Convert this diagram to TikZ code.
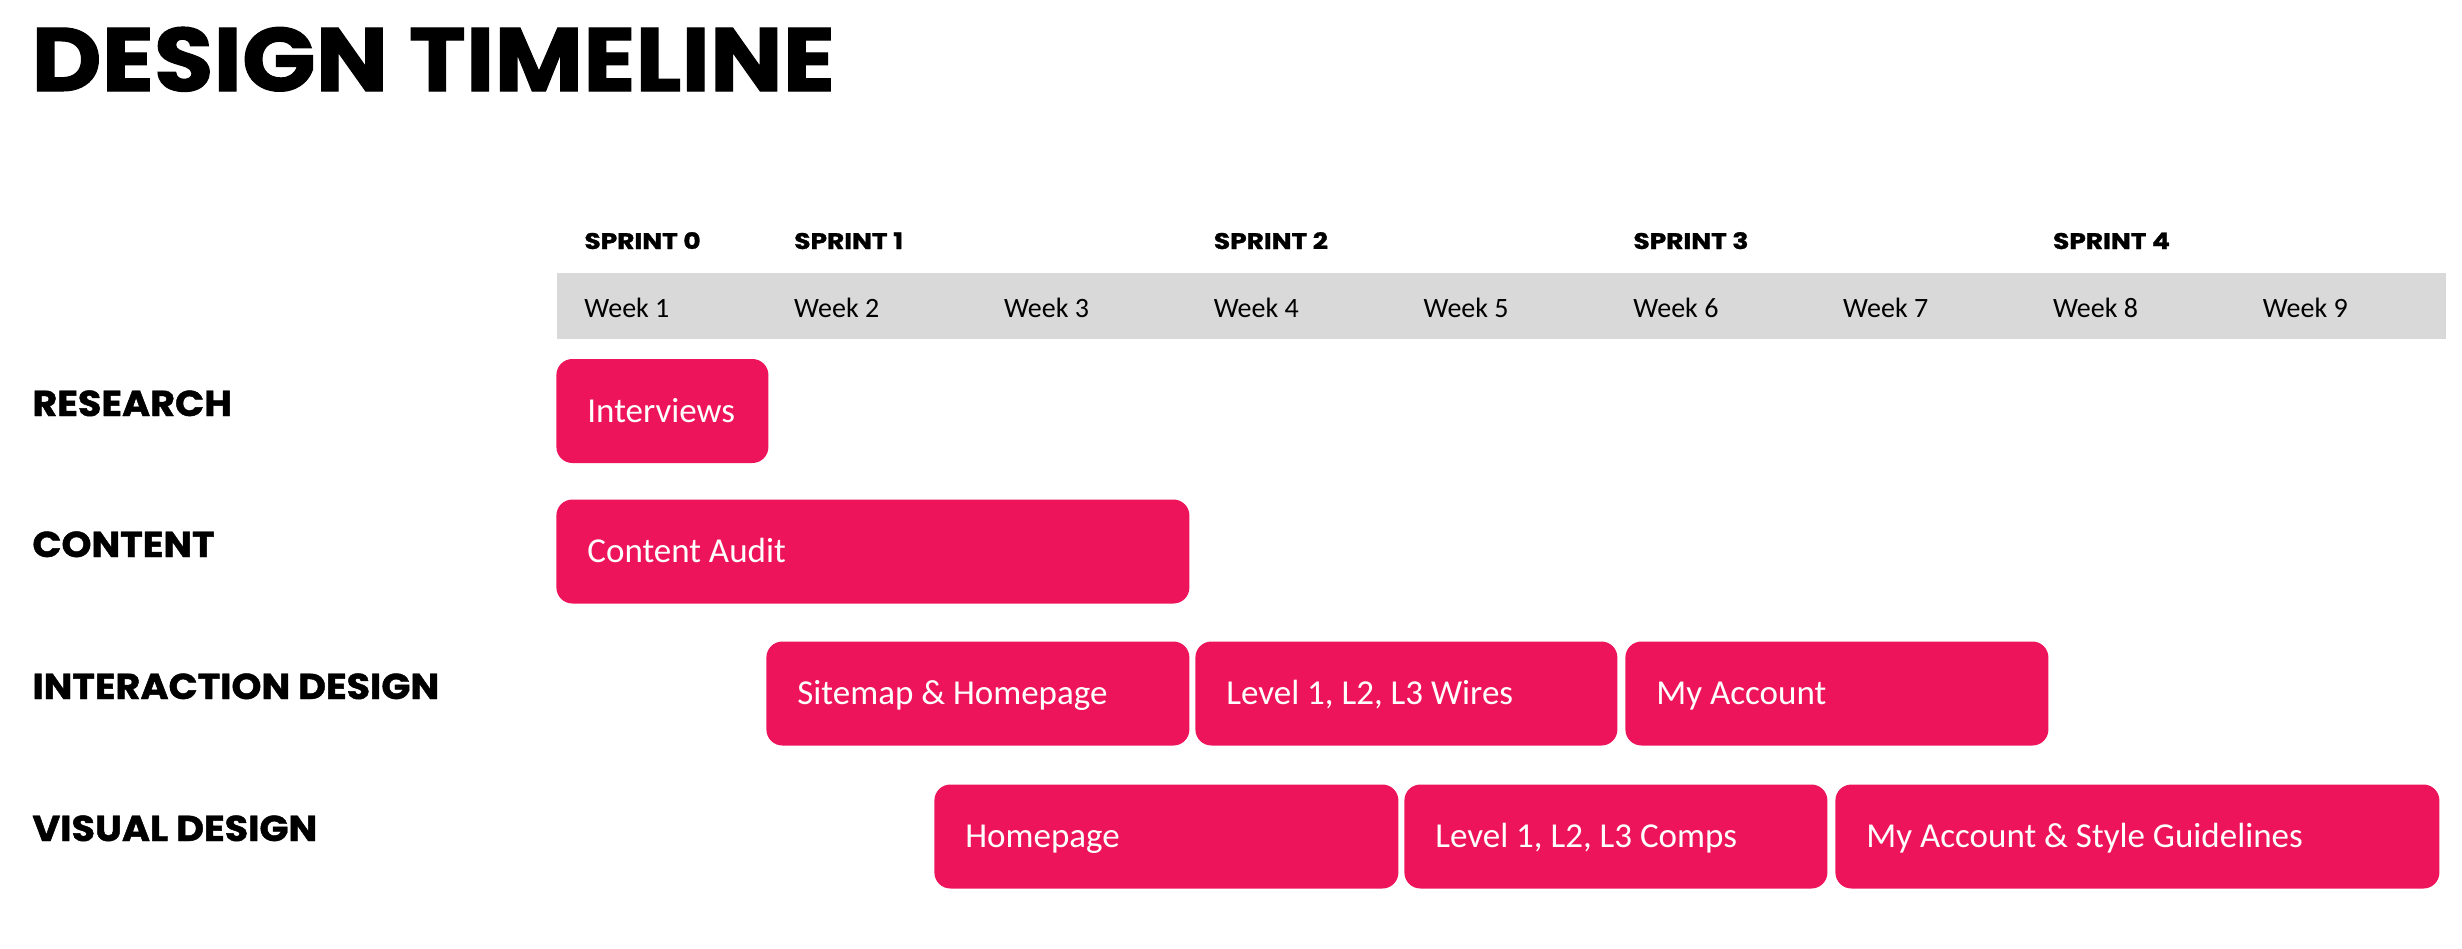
\documentclass[tikz,border=0pt]{standalone}
\usepackage{fontspec}
\usepackage{xcolor}
\usepackage{tikz}
\setmainfont{Carlito}
\newfontfamily\headfont{Poppins}[BoldFeatures={FakeBold=1.2}]
\definecolor{taskpink}{RGB}{238,20,91}
\definecolor{bandgray}{RGB}{217,217,217}

\tikzset{
  task/.style={fill=taskpink, rounded corners=8pt, text=white, anchor=west, align=flush left,
    font=\fontsize{17.5}{20}\selectfont, inner xsep=15.5pt, inner ysep=0pt,
    minimum height=52pt, text height=11.1pt, text depth=0pt, text width=#1},
  rowlabel/.style={anchor=base west, inner sep=0pt, xscale=1.06, font=\headfont\bfseries\fontsize{18}{20}\selectfont},
  sprintlabel/.style={anchor=base west, inner sep=0pt, xscale=1.17, font=\headfont\bfseries\fontsize{11.3}{13}\selectfont},
  weeklabel/.style={anchor=base west, inner sep=0pt, font=\fontsize{14}{16}\selectfont}
}

\begin{document}
\begin{tikzpicture}[x=0.5pt,y=-0.5pt]
	\useasboundingbox (0,0) rectangle (2462,948);
	
	\node [anchor=base west, inner sep=0pt, xscale=1.074, font=\headfont\bfseries\fontsize{45}{50}\selectfont] (title) at (31,91) {DESIGN TIMELINE};
	
	% weeks and sprints
	\fill [bandgray] (557,273) rectangle (2446,339);
	\foreach \w in {1,...,9}
		\node [weeklabel] (week\w) at ({584+209.8*(\w-1)},317) {Week \w};
	\foreach \s/\c in {0/1,1/2,2/4,3/6,4/8}
		\node [sprintlabel] (sprint\s) at ({584+209.8*(\c-1)},249) {SPRINT \s};
	
	% rows
	\node [rowlabel] (research) at (32,416) {RESEARCH};
	\node [rowlabel] (content) at (32,557) {CONTENT};
	\node [rowlabel] (interaction) at (32,699) {INTERACTION DESIGN};
	\node [rowlabel] (visual) at (32,841) {VISUAL DESIGN};
	
	\node [task=75pt] (interviews) at (556,411) {Interviews};
	\node [task=285.5pt] (audit) at (556,551.5) {Content Audit};
	
	\node [task=180.5pt] (sitemap) at (766,693.5) {Sitemap \& Homepage};
	\node [task=180pt] (wires) at (1195,693.5) {Level 1, L2, L3 Wires};
	\node [task=180.5pt] (account) at (1625,693.5) {My Account};
	
	\node [task=201pt] (homepage) at (934,836.5) {Homepage};
	\node [task=180.5pt] (comps) at (1404,836.5) {Level 1, L2, L3 Comps};
	\node [task=271pt] (guidelines) at (1835,836.5) {My Account \& Style Guidelines};
	
\end{tikzpicture}
\end{document}
